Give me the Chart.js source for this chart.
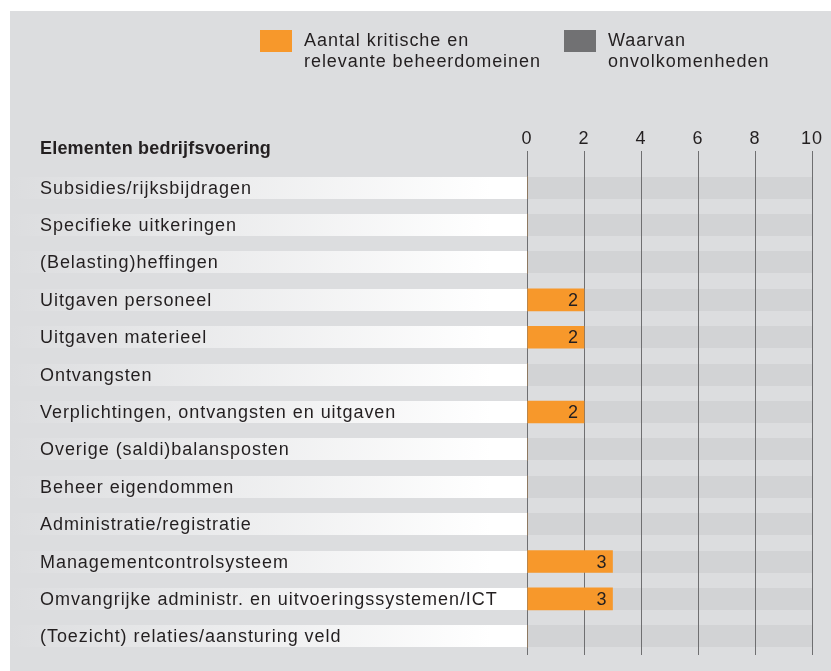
<!DOCTYPE html>
<html lang="nl">
<head>
<meta charset="utf-8">
<title>Elementen bedrijfsvoering</title>
<script src="https://cdn.jsdelivr.net/npm/chart.js@4/dist/chart.umd.min.js"></script>
<style>
    html, body { margin: 0; padding: 0; background: #fff; }
    canvas { display: block; }
</style>
</head>
<body>
<canvas id="chart" width="831" height="671"></canvas>
<script>
// Chart data.
const categories = [
    "Subsidies/rijksbijdragen",
    "Specifieke uitkeringen",
    "(Belasting)heffingen",
    "Uitgaven personeel",
    "Uitgaven materieel",
    "Ontvangsten",
    "Verplichtingen, ontvangsten en uitgaven",
    "Overige (saldi)balansposten",
    "Beheer eigendommen",
    "Administratie/registratie",
    "Managementcontrolsysteem",
    "Omvangrijke administr. en uitvoeringssystemen/ICT",
    "(Toezicht) relaties/aansturing veld",
];
const criticalDomains = [0, 0, 0, 2, 2, 0, 2, 0, 0, 0, 3, 3, 0];
const deficiencies = [0, 0, 0, 0, 0, 0, 0, 0, 0, 0, 0, 0, 0];
const xTicks = [0, 2, 4, 6, 8, 10];
const seriesNames = [
    ["Aantal kritische en", "relevante beheerdomeinen"],
    ["Waarvan", "onvolkomenheden"],
];
const axisTitle = "Elementen bedrijfsvoering";

const FONT = '"Liberation Sans", Arial, sans-serif';
const SIZE = 18;
// the original face (Univers-like) runs wider than Liberation Sans
const SPACING = "0.95px";
const ORANGE = "#f7982b";
const DARK = "#717173";
const PANEL = "#dcdddf";
const STRIPE = "#d2d3d5";
const TEXT = "#231f20";
const ROW_H = 22;

// panel, row stripes (label gradient + plot band), title and legend
const backdrop = {
    id: "backdrop",
    beforeDraw(chart) {
        const { ctx, chartArea, scales } = chart;
        ctx.save();
        ctx.fillStyle = "#fff";
        ctx.fillRect(0, 0, chart.width, chart.height);
        ctx.fillStyle = PANEL;
        ctx.fillRect(10, 11, chart.width - 10, chart.height - 11);

        const grad = ctx.createLinearGradient(10, 0, chartArea.left, 0);
        grad.addColorStop(0, PANEL);
        grad.addColorStop(0.93, "#ffffff");
        grad.addColorStop(1, "#ffffff");
        categories.forEach((_, i) => {
            const y = Math.round(scales.y.getPixelForValue(i) - ROW_H / 2);
            ctx.fillStyle = grad;
            ctx.fillRect(10, y, chartArea.left - 10, ROW_H);
            ctx.fillStyle = STRIPE;
            ctx.fillRect(chartArea.left, y, chartArea.right - chartArea.left, ROW_H);
        });
        ctx.restore();
        // left on purpose so the axis labels pick it up too
        ctx.letterSpacing = SPACING;
    },
    afterDraw(chart) {
        const { ctx } = chart;
        ctx.save();
        ctx.fillStyle = TEXT;
        ctx.textBaseline = "middle";
        ctx.textAlign = "left";
        ctx.letterSpacing = "0.2px";
        ctx.font = "bold " + SIZE + "px " + FONT;
        ctx.fillText(axisTitle, 40, 149);

        const items = [
            { x: 260, color: ORANGE, lines: seriesNames[0] },
            { x: 564, color: DARK, lines: seriesNames[1] },
        ];
        ctx.letterSpacing = SPACING;
        ctx.font = SIZE + "px " + FONT;
        items.forEach((it) => {
            ctx.fillStyle = it.color;
            ctx.fillRect(it.x, 30, 32, 22);
            ctx.fillStyle = TEXT;
            it.lines.forEach((line, k) => ctx.fillText(line, it.x + 44, 41 + k * 21));
        });

        // value labels at the end of each bar
        const meta = chart.getDatasetMeta(0);
        ctx.textAlign = "right";
        ctx.letterSpacing = "0px";
        ctx.font = SIZE + "px " + FONT;
        meta.data.forEach((bar, i) => {
            if (!criticalDomains[i]) return;
            ctx.fillText(String(criticalDomains[i]), bar.x - 6, bar.y + 1);
        });
        ctx.restore();
    },
};

new Chart(document.getElementById("chart").getContext("2d"), {
    type: "bar",
    data: {
        labels: categories,
        datasets: [
            {
                label: seriesNames[0].join(" "),
                data: criticalDomains,
                backgroundColor: ORANGE,
                barThickness: ROW_H,
                grouped: false,
                order: 1,
            },
            {
                label: seriesNames[1].join(" "),
                data: deficiencies,
                backgroundColor: DARK,
                barThickness: ROW_H,
                grouped: false,
                order: 0,
            },
        ],
    },
    options: {
        indexAxis: "y",
        responsive: false,
        animation: false,
        layout: { padding: { left: 40, right: 19, top: 121, bottom: 16 } },
        plugins: {
            legend: { display: false },
            tooltip: { enabled: false },
        },
        scales: {
            x: {
                position: "top",
                min: 0,
                max: 10,
                afterBuildTicks: (scale) => {
                    scale.ticks = xTicks.map((v) => ({ value: v }));
                },
                afterFit: (scale) => { scale.height = 48; },
                border: { display: false },
                grid: {
                    color: "#6f6f71",
                    lineWidth: 1,
                    drawTicks: true,
                    tickLength: 18,
                },
                ticks: {
                    color: TEXT,
                    padding: 1,
                    font: { family: FONT, size: SIZE },
                },
            },
            y: {
                afterFit: (scale) => { scale.width = 487; },
                border: { display: false },
                grid: { display: false },
                ticks: {
                    autoSkip: false,
                    crossAlign: "far",
                    padding: 0,
                    labelOffset: 1,
                    color: TEXT,
                    font: { family: FONT, size: SIZE },
                },
            },
        },
    },
    plugins: [backdrop],
});
</script>
</body>
</html>
